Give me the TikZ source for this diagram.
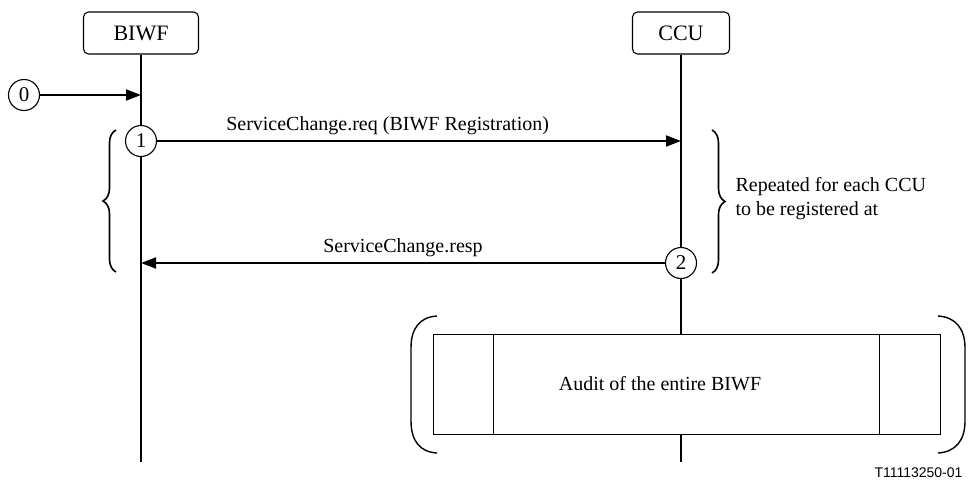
\documentclass[tikz,border=0pt]{standalone}
\usepackage{fontspec}
\setmainfont{Liberation Serif}
\newfontfamily\figidfont{Liberation Sans}
\usetikzlibrary{arrows.meta,positioning,decorations.pathreplacing}

\tikzset{
  entity/.style={draw, rounded corners=5pt, line width=1.1pt, minimum width=115pt, minimum height=42pt, font=\fontsize{22}{26}\selectfont},
  stepnum/.style={draw, circle, line width=1.1pt, minimum size=31pt, inner sep=0pt, fill=white, font=\fontsize{21}{24}\selectfont},
  msg/.style={line width=1.8pt, -{Triangle[length=15pt,width=11pt]}},
  life/.style={line width=1.8pt},
  curly/.style={decorate, decoration={brace, amplitude=13pt}, line width=1.6pt},
  paren/.style={line width=1.4pt},
}

\begin{document}
\begin{tikzpicture}[x=1pt, y=-1pt, font=\fontsize{20}{24}\selectfont]
  \useasboundingbox (0,0) rectangle (968,482);

  % entities and their lifelines
  \node[entity] (BIWF) at (141,33) {BIWF};
  \node[entity, minimum width=97pt] (CCU) at (681,33) {CCU};
  \coordinate (BIWFend) at (141,462);
  \coordinate (CCUend) at (681,462);

  \node[draw, line width=1pt, minimum width=507pt, minimum height=100pt] (audit) at (686.5,384) {};
  \node (auditlabel) at (660,384) {Audit of the entire BIWF};
  \draw[line width=1pt] ([xshift=61pt]audit.north west) -- ([xshift=61pt]audit.south west);
  \draw[line width=1pt] ([xshift=-61pt]audit.north east) -- ([xshift=-61pt]audit.south east);

  \draw[life] (BIWF) -- (BIWFend);
  \draw[life] (CCU) -- (audit.north -| CCU);
  \draw[life] (audit.south -| CCU) -- (CCUend);

  % numbered steps
  \node[stepnum] (s0) at (24,95) {0};
  \node[stepnum] (s1) at (141,141) {1};
  \node[stepnum] (s2) at (681,263) {2};

  \draw[msg] (s0) -- (s0 -| BIWF);
  \draw[msg] (s1) -- node[above=2pt, pos=0.44] (req) {ServiceChange.req (BIWF Registration)} (s1 -| CCU);
  \draw[msg] (s2) -- node[above=2pt] (resp) {ServiceChange.resp} (s2 -| BIWF);

  % repetition braces
  \draw[curly] (116,272) -- (116,130);
  \draw[curly] (712,130) -- (712,273);
  \node[anchor=west, align=left] (note) at (732,199) {Repeated for each CCU\\to be registered at};

  % brackets round the audit
  \draw[paren] (437,316) .. controls (420,317) and (411,328) .. (411,348) -- (411,421) .. controls (411,441) and (420,452) .. (437,453);
  \draw[paren] (938,316) .. controls (955,317) and (965,328) .. (965,348) -- (965,421) .. controls (965,441) and (955,452) .. (938,453);

  \node[anchor=east, font=\figidfont\fontsize{14}{16}\selectfont] (figid) at (966,473) {T11113250-01};
\end{tikzpicture}
\end{document}
